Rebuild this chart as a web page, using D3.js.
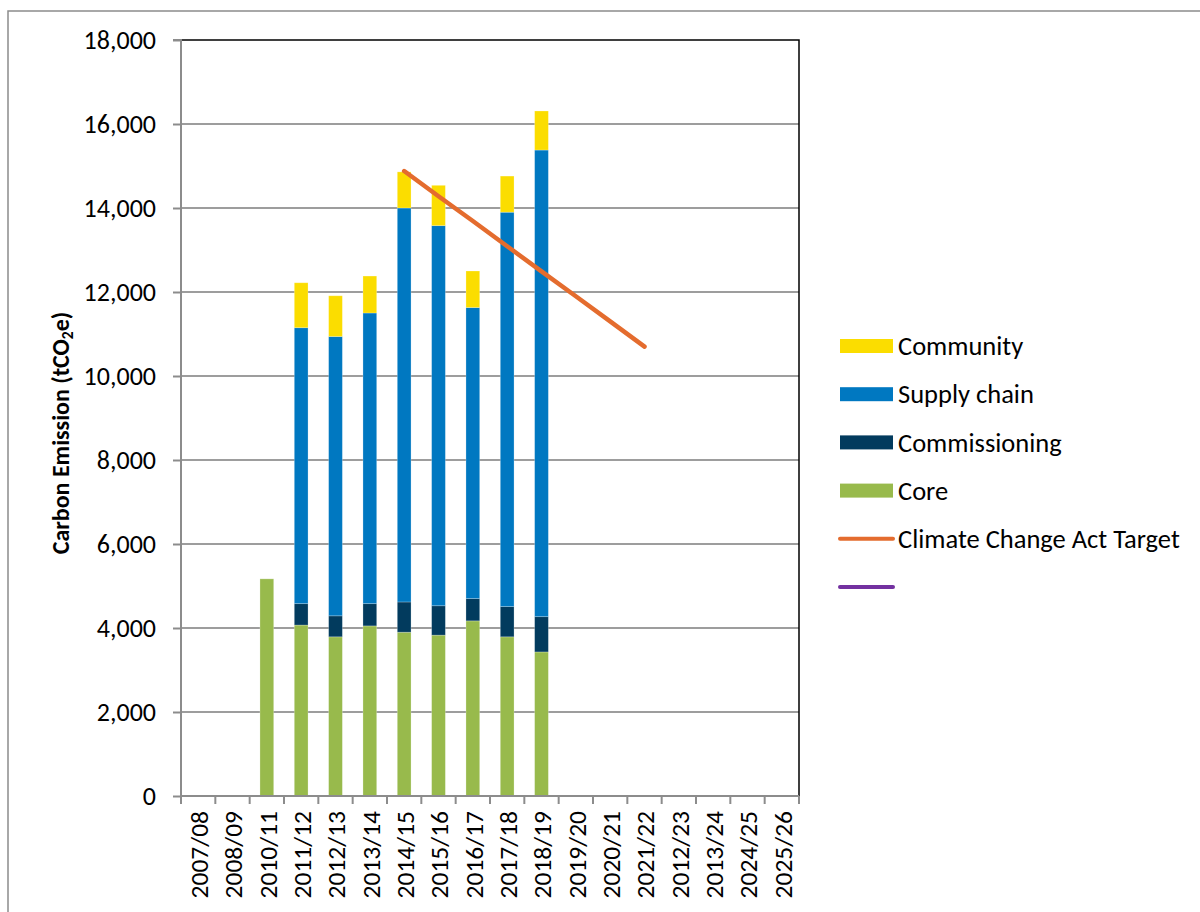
<!DOCTYPE html>
<html>
<head>
<meta charset="utf-8">
<script src="https://cdn.jsdelivr.net/npm/d3@7"></script>
<style>
  html, body { margin: 0; padding: 0; background: #fff; }
  svg { display: block; }
  text { font-family: Carlito, Lato, "Open Sans", sans-serif; fill: #000; }
</style>
</head>
<body>
<svg id="chart" width="1200" height="912"></svg>
<script>
// Financial years on the category axis
const categories = ["2007/08","2008/09","2010/11","2011/12","2012/13","2013/14","2014/15",
  "2015/16","2016/17","2017/18","2018/19","2019/20","2020/21","2021/22","2012/23",
  "2013/24","2024/25","2025/26"];

// Emissions by source, tCO2e
const core          = [0, 0, 5170, 4070, 3790, 4050, 3900, 3830, 4170, 3790, 3430, 0, 0, 0, 0, 0, 0, 0];
const commissioning = [0, 0,    0,  510,  500,  530,  720,  700,  530,  720,  840, 0, 0, 0, 0, 0, 0, 0];
const supplyChain   = [0, 0,    0, 6570, 6650, 6920, 9380, 9050, 6930, 9390, 11110, 0, 0, 0, 0, 0, 0, 0];
const community     = [0, 0,    0, 1070,  970,  880,  860,  960,  870,  860,  930, 0, 0, 0, 0, 0, 0, 0];

// Climate Change Act target trajectory
const target = [null, null, null, null, null, null, 14880, 14280, 13690, 13090, 12490, 11900, 11300, 10700,
  null, null, null, null];

const yTicks = [0, 2000, 4000, 6000, 8000, 10000, 12000, 14000, 16000, 18000];

const seriesKeys   = ["core", "commissioning", "supplyChain", "community"];
const seriesColors = { core: "#98BA4C", commissioning: "#023B5E", supplyChain: "#0078C1", community: "#FBDD00" };
const targetColor  = "#E46C2E";
const extraColor   = "#7331A0";

const rows = categories.map((c, i) => ({
  cat: c, core: core[i], commissioning: commissioning[i], supplyChain: supplyChain[i], community: community[i]
}));

const svg = d3.select("#chart");
const plotL = 181, plotR = 799, plotT = 40, plotB = 796;

// Outer chart frame
svg.append("rect")
  .attr("x", 8).attr("y", 11).attr("width", 1200).attr("height", 912)
  .attr("fill", "none").attr("stroke", "#8c8c8c").attr("stroke-width", 1.5);

const xCell = d3.scaleBand().domain(categories).range([plotL, plotR]).padding(0);
const xBar = d3.scaleBand().domain(categories).range([plotL, plotR]).paddingInner(0.6).paddingOuter(0.3);
const y = d3.scaleLinear().domain([0, 18000]).range([plotB, plotT]);

// Horizontal gridlines
svg.append("g").selectAll("line")
  .data(yTicks.filter(t => t > 0 && t < 18000))
  .join("line")
  .attr("x1", plotL).attr("x2", plotR)
  .attr("y1", d => y(d)).attr("y2", d => y(d))
  .attr("stroke", "#9d9d9d").attr("stroke-width", 2);

// Plot-area border on top and right
svg.append("path")
  .attr("d", `M${plotL},${y(18000)}H${plotR}V${plotB}`)
  .attr("fill", "none").attr("stroke", "#000").attr("stroke-width", 1.5);

// Stacked bars
const stacked = d3.stack().keys(seriesKeys)(rows);
svg.append("g").selectAll("g")
  .data(stacked)
  .join("g")
  .attr("fill", d => seriesColors[d.key])
  .selectAll("rect")
  .data(d => d.filter(s => s[1] - s[0] > 0))
  .join("rect")
  .attr("x", d => xBar(d.data.cat))
  .attr("width", xBar.bandwidth())
  .attr("y", d => y(d[1]))
  .attr("height", d => y(d[0]) - y(d[1]))
  .attr("stroke", "rgba(255,255,255,0.3)").attr("stroke-width", 0.8);

// Target line
const line = d3.line()
  .defined(d => d != null)
  .x((d, i) => xCell(categories[i]) + xCell.bandwidth() / 2)
  .y(d => y(d));
svg.append("path")
  .datum(target)
  .attr("d", line)
  .attr("fill", "none").attr("stroke", targetColor)
  .attr("stroke-width", 4.5).attr("stroke-linecap", "round");

// Y axis
const yAxis = d3.axisLeft(y).tickValues(yTicks).tickFormat(d3.format(",")).tickSize(8).tickPadding(17);
const yg = svg.append("g").attr("transform", `translate(${plotL},0)`).call(yAxis);
yg.select(".domain").attr("stroke", "#8c8c8c").attr("stroke-width", 2).attr("d", `M-8,${plotT}H0V${plotB}`);
yg.selectAll(".tick line").attr("stroke", "#8c8c8c").attr("stroke-width", 2);
yg.selectAll(".tick text").style("font-size", "26px").attr("dy", "0.34em");

// X axis: ticks on category boundaries
const xg = svg.append("g").attr("transform", `translate(0,${plotB})`);
xg.append("line").attr("x1", plotL).attr("x2", plotR).attr("y1", 0).attr("y2", 0)
  .attr("stroke", "#8c8c8c").attr("stroke-width", 2);
xg.selectAll("line.tk")
  .data(categories.map(c => xCell(c)).concat([plotR]))
  .join("line").attr("class", "tk")
  .attr("x1", d => d).attr("x2", d => d).attr("y1", 0).attr("y2", 8)
  .attr("stroke", "#8c8c8c").attr("stroke-width", 2);
xg.selectAll("text")
  .data(categories)
  .join("text")
  .attr("transform", d => `translate(${xCell(d) + xCell.bandwidth() / 2 + 1},15) rotate(-90)`)
  .attr("text-anchor", "end")
  .attr("dy", "0.35em")
  .style("font-size", "25.5px")
  .text(d => d);

// Y axis title
const yt = svg.append("text")
  .attr("transform", "translate(61,433) rotate(-90)")
  .attr("text-anchor", "middle")
  .attr("dy", "0.35em")
  .style("font-size", "24px").style("font-weight", "bold");
yt.append("tspan").text("Carbon Emission (tCO");
yt.append("tspan").attr("dy", "0.25em").style("font-size", "15.5px").text("2");
yt.append("tspan").attr("dy", "-0.17em").text("e)");

// Legend
const legendItems = [
  { label: "Community", color: seriesColors.community, type: "rect" },
  { label: "Supply chain", color: seriesColors.supplyChain, type: "rect" },
  { label: "Commissioning", color: seriesColors.commissioning, type: "rect" },
  { label: "Core", color: seriesColors.core, type: "rect" },
  { label: "Climate Change Act Target", color: targetColor, type: "line" },
  { label: "", color: extraColor, type: "line" }
];
const lg = svg.append("g").attr("transform", "translate(840,346)");
const li = lg.selectAll("g").data(legendItems).join("g")
  .attr("transform", (d, i) => `translate(0,${i * 48.2})`);
li.filter(d => d.type === "rect").append("rect")
  .attr("x", 0).attr("y", -7).attr("width", 53).attr("height", 14)
  .attr("fill", d => d.color);
li.filter(d => d.type === "line").append("line")
  .attr("x1", 0).attr("x2", 53).attr("y1", 0).attr("y2", 0)
  .attr("stroke", d => d.color).attr("stroke-width", 4).attr("stroke-linecap", "round");
li.append("text")
  .attr("x", 58).attr("dy", "0.35em")
  .style("font-size", "26.5px")
  .text(d => d.label);
</script>
</body>
</html>
